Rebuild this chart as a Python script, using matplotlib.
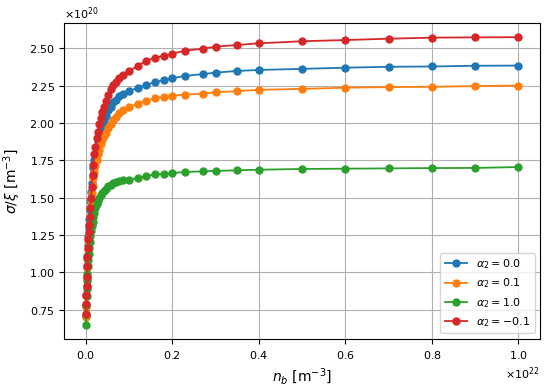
import matplotlib
matplotlib.use("Agg")
import matplotlib.pyplot as plt
import numpy as np

plt.rcParams['axes.formatter.use_mathtext'] = True
plt.rcParams['xtick.labelsize'] = 8
plt.rcParams['ytick.labelsize'] = 8
plt.rcParams['legend.fontsize'] = 8

# n_b in units of 1e22 m^-3
n_b = [0.0002, 0.0006, 0.001, 0.0015, 0.002, 0.0027, 0.0035, 0.0045, 0.0055, 0.0065,
       0.0077, 0.009, 0.0105, 0.012, 0.0137, 0.0155, 0.0175, 0.0195, 0.022, 0.025,
       0.028, 0.031, 0.035, 0.038, 0.042, 0.046, 0.052, 0.057, 0.063, 0.069,
       0.077, 0.086, 0.1, 0.12, 0.14, 0.16, 0.18, 0.2, 0.23, 0.27,
       0.3, 0.35, 0.4, 0.5, 0.6, 0.7, 0.8, 0.9, 1.0]

# sigma/xi in units of 1e20 m^-3
s_a0 = [0.71, 0.78, 0.85, 0.91, 0.97, 1.04, 1.11, 1.18, 1.24, 1.30,
        1.36, 1.42, 1.48, 1.54, 1.60, 1.65, 1.70, 1.75, 1.79, 1.84,
        1.88, 1.92, 1.96, 1.99, 2.02, 2.045, 2.085, 2.11, 2.137, 2.157,
        2.178, 2.195, 2.213, 2.237, 2.255, 2.273, 2.288, 2.30, 2.315, 2.327,
        2.337, 2.348, 2.355, 2.362, 2.37, 2.376, 2.378, 2.383, 2.384]
s_a01 = [0.70, 0.77, 0.84, 0.90, 0.96, 1.03, 1.09, 1.15, 1.21, 1.26,
         1.32, 1.37, 1.43, 1.48, 1.53, 1.58, 1.63, 1.67, 1.71, 1.75,
         1.79, 1.82, 1.86, 1.885, 1.91, 1.935, 1.965, 1.99, 2.02, 2.04,
         2.065, 2.085, 2.108, 2.13, 2.15, 2.165, 2.175, 2.183, 2.19, 2.196,
         2.205, 2.213, 2.222, 2.228, 2.236, 2.24, 2.242, 2.247, 2.25]
s_a1 = [0.65, 0.72, 0.78, 0.84, 0.89, 0.94, 0.99, 1.04, 1.08, 1.12,
        1.16, 1.20, 1.24, 1.28, 1.31, 1.34, 1.37, 1.40, 1.43, 1.455,
        1.475, 1.495, 1.515, 1.53, 1.545, 1.56, 1.575, 1.585, 1.596, 1.603,
        1.61, 1.615, 1.62, 1.632, 1.645, 1.655, 1.66, 1.665, 1.672, 1.676,
        1.679, 1.683, 1.687, 1.692, 1.694, 1.696, 1.698, 1.699, 1.705]
s_am01 = [0.72, 0.79, 0.85, 0.91, 0.97, 1.04, 1.10, 1.16, 1.22, 1.27,
          1.32, 1.37, 1.43, 1.50, 1.57, 1.65, 1.72, 1.79, 1.84, 1.90,
          1.94, 1.99, 2.03, 2.07, 2.11, 2.15, 2.19, 2.225, 2.255, 2.275,
          2.30, 2.32, 2.345, 2.384, 2.415, 2.437, 2.449, 2.464, 2.484, 2.497,
          2.511, 2.522, 2.533, 2.547, 2.555, 2.564, 2.571, 2.573, 2.574]

labels = [r'$\alpha_2 = 0.0$', r'$\alpha_2 = 0.1$', r'$\alpha_2 = 1.0$', r'$\alpha_2 = -0.1$']
series = [s_a0, s_a01, s_a1, s_am01]
colors = ['#1f77b4', '#ff7f0e', '#2ca02c', '#d62728']

fig, ax = plt.subplots(figsize=(5.5, 3.87), dpi=100)
x = np.array(n_b) * 1e22
for s, lab, c in zip(series, labels, colors):
    ax.plot(x, np.array(s) * 1e20, marker='o', markersize=5, linewidth=1.3,
            color=c, label=lab)

ax.set_xlabel(r'$n_b\ [\mathrm{m}^{-3}]$', fontsize=10)
ax.set_ylabel(r'$\sigma/\xi\ [\mathrm{m}^{-3}]$', fontsize=10)
ax.grid(True)
ax.legend(loc='lower right')
fig.subplots_adjust(left=0.117, right=0.982, top=0.941, bottom=0.124)
fig.savefig('out.png', dpi=100)
